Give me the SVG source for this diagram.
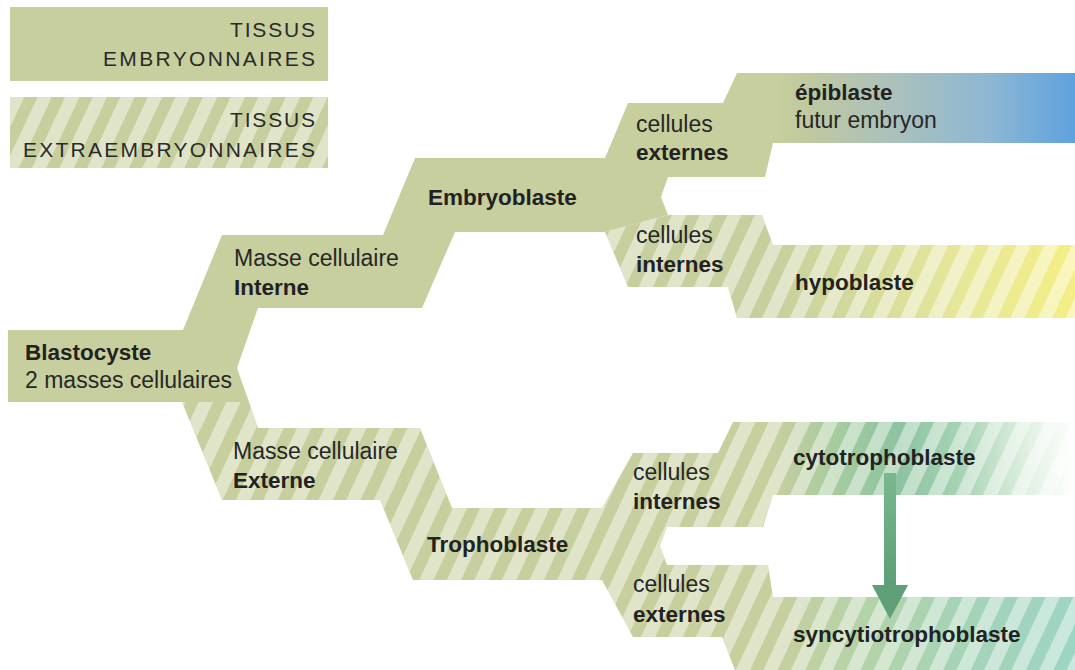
<svg xmlns="http://www.w3.org/2000/svg" width="1075" height="670" viewBox="0 0 1075 670">
  <defs>
    <style>
      .olive { fill: #c7cf9e; }
      .stripes { fill: url(#st); }
      .t { font-family: "Liberation Sans", Arial, sans-serif; font-size: 23px; fill: #272727; }
      .b { font-family: "Liberation Sans", Arial, sans-serif; font-size: 22.5px; font-weight: bold; fill: #222; }
      .leg { font-family: "Liberation Sans", Arial, sans-serif; font-size: 21px; fill: #2a2a2a; }
    </style>
    <pattern id="st" width="25" height="20" patternUnits="userSpaceOnUse" patternTransform="rotate(25)">
      <rect width="13" height="20" fill="#ffffff" fill-opacity="0.45"/>
    </pattern>
    <linearGradient id="gEpi" gradientUnits="userSpaceOnUse" x1="773" y1="0" x2="1075" y2="0">
      <stop offset="0" stop-color="#c7cf9e"/>
      <stop offset="0.12" stop-color="#bfc8a0"/>
      <stop offset="0.42" stop-color="#a9c0bd"/>
      <stop offset="0.72" stop-color="#8db7d4"/>
      <stop offset="1" stop-color="#5ea2de"/>
    </linearGradient>
    <linearGradient id="gHypo" gradientUnits="userSpaceOnUse" x1="773" y1="0" x2="1075" y2="0">
      <stop offset="0" stop-color="#c7cf9e"/>
      <stop offset="0.3" stop-color="#d5db9c"/>
      <stop offset="0.62" stop-color="#e6e79a"/>
      <stop offset="1" stop-color="#f5ee86"/>
    </linearGradient>
    <linearGradient id="gCyto" gradientUnits="userSpaceOnUse" x1="773" y1="0" x2="1075" y2="0">
      <stop offset="0" stop-color="#c7cf9e"/>
      <stop offset="0.22" stop-color="#a4cb9f"/>
      <stop offset="0.42" stop-color="#8cc3a0"/>
      <stop offset="0.62" stop-color="#a6d3b3"/>
      <stop offset="0.85" stop-color="#e2f1e3"/>
      <stop offset="1" stop-color="#ffffff"/>
    </linearGradient>
    <linearGradient id="gSync" gradientUnits="userSpaceOnUse" x1="773" y1="0" x2="1075" y2="0">
      <stop offset="0" stop-color="#c7cf9e"/>
      <stop offset="0.3" stop-color="#b4d3a8"/>
      <stop offset="0.62" stop-color="#a5d3b6"/>
      <stop offset="1" stop-color="#9dd5c4"/>
    </linearGradient>
    <linearGradient id="gArrow" x1="0" y1="0" x2="0" y2="1">
      <stop offset="0" stop-color="#7bb88f"/>
      <stop offset="1" stop-color="#5c9e75"/>
    </linearGradient>
  </defs>

  <!-- legend -->
  <g id="legend-embryonnaires">
    <rect x="10" y="7" width="318" height="74" class="olive"/>
    <text class="leg" x="230" y="37" textLength="85" lengthAdjust="spacing">TISSUS</text>
    <text class="leg" x="103" y="66" textLength="212" lengthAdjust="spacing">EMBRYONNAIRES</text>
  </g>
  <g id="legend-extraembryonnaires">
    <rect x="10" y="97" width="318" height="71" class="olive"/>
    <rect x="10" y="97" width="318" height="71" class="stripes"/>
    <text class="leg" x="230" y="127" textLength="85" lengthAdjust="spacing">TISSUS</text>
    <text class="leg" x="23" y="157" textLength="292" lengthAdjust="spacing">EXTRAEMBRYONNAIRES</text>
  </g>

  <!-- branching shapes -->
  <g id="shapes">
    <polygon class="olive" points="8,330 183,330 222,235 383,235 415,158 605,158 628,103 723,103 737,73 1075,73 1075,143 773,143 765,177 668,177 661,197 668,215 605,232 455,232 422,308 258,308 237,368 249,402 8,402"/>
    <polygon class="olive" points="605,232 668,215 762,215 773,245 1075,245 1075,318 737,318 728,287 628,287"/>
    <polygon class="stripes" points="605,232 668,215 762,215 773,245 1075,245 1075,318 737,318 728,287 628,287"/>
    <polygon class="olive" points="182,402 249,402 258,428 420,428 452,508 602,508 633,453 718,453 733,422 1075,422 1075,495 773,495 763,527 667,527 660,546 667,565 768,565 773,597 1075,597 1075,670 735,670 722,637 633,637 602,580 413,580 380,500 222,500"/>
    <polygon class="stripes" points="182,402 249,402 258,428 420,428 452,508 602,508 633,453 718,453 733,422 1075,422 1075,495 773,495 763,527 667,527 660,546 667,565 768,565 773,597 1075,597 1075,670 735,670 722,637 633,637 602,580 413,580 380,500 222,500"/>
  </g>

  <!-- nodes -->
  <g id="blastocyste">
    <text class="b" x="25" y="360">Blastocyste</text>
    <text class="t" x="25" y="388">2 masses cellulaires</text>
  </g>
  <g id="masse-interne">
    <text class="t" x="234" y="266">Masse cellulaire</text>
    <text class="b" x="234" y="295">Interne</text>
  </g>
  <g id="masse-externe">
    <text class="t" x="233" y="459">Masse cellulaire</text>
    <text class="b" x="233" y="488">Externe</text>
  </g>
  <g id="embryoblaste">
    <text class="b" x="428" y="205">Embryoblaste</text>
  </g>
  <g id="trophoblaste">
    <text class="b" x="427" y="552">Trophoblaste</text>
  </g>
  <g id="embryo-cellules-externes">
    <text class="t" x="636" y="132">cellules</text>
    <text class="b" x="636" y="160">externes</text>
  </g>
  <g id="embryo-cellules-internes">
    <text class="t" x="636" y="243">cellules</text>
    <text class="b" x="636" y="272">internes</text>
  </g>
  <g id="tropho-cellules-internes">
    <text class="t" x="633" y="480">cellules</text>
    <text class="b" x="633" y="509">internes</text>
  </g>
  <g id="tropho-cellules-externes">
    <text class="t" x="633" y="592">cellules</text>
    <text class="b" x="633" y="622">externes</text>
  </g>
  <g id="epiblaste">
    <rect x="773" y="73" width="302" height="70" fill="url(#gEpi)"/>
    <text class="b" x="795" y="100">épiblaste</text>
    <text class="t" x="795" y="128">futur embryon</text>
  </g>
  <g id="hypoblaste">
    <rect x="773" y="245" width="302" height="73" fill="url(#gHypo)"/>
    <rect x="773" y="245" width="302" height="73" class="stripes"/>
    <text class="b" x="795" y="290">hypoblaste</text>
  </g>
  <g id="cytotrophoblaste">
    <rect x="773" y="422" width="302" height="73" fill="url(#gCyto)"/>
    <rect x="773" y="422" width="302" height="73" class="stripes"/>
    <text class="b" x="793" y="465">cytotrophoblaste</text>
  </g>
  <g id="syncytiotrophoblaste">
    <rect x="773" y="597" width="302" height="73" fill="url(#gSync)"/>
    <rect x="773" y="597" width="302" height="73" class="stripes"/>
    <text class="b" x="793" y="642">syncytiotrophoblaste</text>
  </g>

  <!-- connectors -->
  <g id="connectors">
    <rect x="884" y="473" width="12" height="114" fill="url(#gArrow)"/>
    <polygon points="872,585 908,585 890,619" fill="#5e9f77"/>
  </g>
</svg>
